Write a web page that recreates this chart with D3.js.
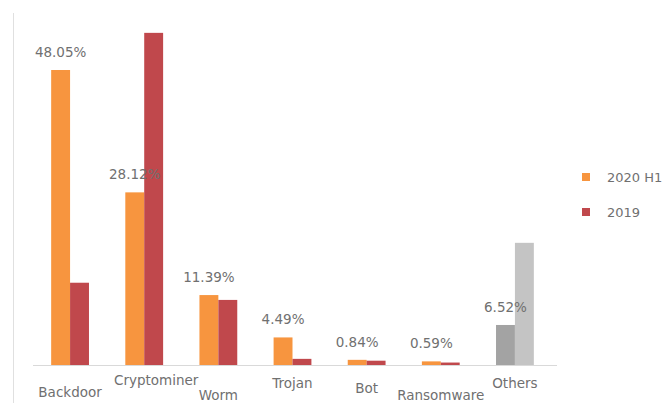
<!DOCTYPE html>
<html>
<head>
<meta charset="utf-8">
<script src="https://cdn.jsdelivr.net/npm/d3@7"></script>
<style>
  body { margin: 0; background: #fff; }
  svg { display: block; }
  text { font-family: "DejaVu Sans", sans-serif; fill: #707070; }
</style>
</head>
<body>
<div id="chart"></div>
<script>
// data
const categories = ["Backdoor", "Cryptominer", "Worm", "Trojan", "Bot", "Ransomware", "Others"];
const series = ["2020 H1", "2019"];
const values2020 = [48.05, 28.12, 11.39, 4.49, 0.84, 0.59, 6.52];
const values2019 = [13.4, 54.1, 10.6, 1.0, 0.7, 0.4, 19.9];
const valueLabels = ["48.05%", "28.12%", "11.39%", "4.49%", "0.84%", "0.59%", "6.52%"];

const width = 669, height = 403;
const baseY = 365;

const svg = d3.select("#chart").append("svg")
  .attr("width", width)
  .attr("height", height);

// scales
const x = d3.scaleBand()
  .domain(categories)
  .range([33, 552])
  .paddingInner(0.49)
  .paddingOuter(0.245);

const xs = d3.scaleBand()
  .domain(series)
  .range([0, x.bandwidth()]);

const y = d3.scaleLinear()
  .domain([0, 48.05])
  .range([baseY, 70]);

const colors = { "2020 H1": "#f7953f", "2019": "#c0484c" };
const otherColors = { "2020 H1": "#a3a3a3", "2019": "#c4c4c4" };

// frame line on the left
svg.append("line")
  .attr("x1", 13.5).attr("x2", 13.5)
  .attr("y1", 13).attr("y2", height)
  .attr("stroke", "#e0e0e0");

// bars
const rows = categories.map((c, i) => ({ cat: c, vals: [values2020[i], values2019[i]] }));

const groups = svg.selectAll(".grp")
  .data(rows)
  .join("g")
  .attr("class", "grp")
  .attr("transform", d => `translate(${x(d.cat)},0)`);

groups.selectAll("rect")
  .data(d => series.map((s, j) => ({ cat: d.cat, s: s, v: d.vals[j] })))
  .join("rect")
  .attr("x", d => xs(d.s))
  .attr("y", d => y(d.v))
  .attr("width", xs.bandwidth())
  .attr("height", d => baseY - y(d.v))
  .attr("fill", d => d.cat === "Others" ? otherColors[d.s] : colors[d.s]);

// baseline
svg.append("line")
  .attr("x1", 33).attr("x2", 557)
  .attr("y1", baseY + 0.5).attr("y2", baseY + 0.5)
  .attr("stroke", "#d9d9d9");

// value labels over the 2020 bars
svg.selectAll(".vlabel")
  .data(categories)
  .join("text")
  .attr("class", "vlabel")
  .attr("x", (c) => x(c) + xs("2020 H1") + xs.bandwidth() / 2)
  .attr("y", (c, i) => y(values2020[i]) - 13)
  .attr("text-anchor", "middle")
  .style("font-size", "13.5px")
  .text((c, i) => valueLabels[i]);

// category labels (staggered like the original)
const labelDy = [32, 20, 35, 23, 28, 35, 23];
svg.selectAll(".clabel")
  .data(categories)
  .join("text")
  .attr("class", "clabel")
  .attr("x", c => x(c) + x.bandwidth() / 2 + (c === "Cryptominer" ? 12 : 0))
  .attr("y", (c, i) => baseY + labelDy[i])
  .attr("text-anchor", "middle")
  .style("font-size", "13.5px")
  .text(c => c);

// legend
const legend = svg.append("g").attr("transform", "translate(582,177)");
legend.selectAll("rect")
  .data(series)
  .join("rect")
  .attr("x", 0)
  .attr("y", (d, i) => i * 35 - 4)
  .attr("width", 8)
  .attr("height", 8)
  .attr("fill", d => colors[d]);
legend.selectAll("text")
  .data(series)
  .join("text")
  .attr("x", 25)
  .attr("y", (d, i) => i * 35 + 5)
  .style("font-size", "13px")
  .text(d => d);
</script>
</body>
</html>
